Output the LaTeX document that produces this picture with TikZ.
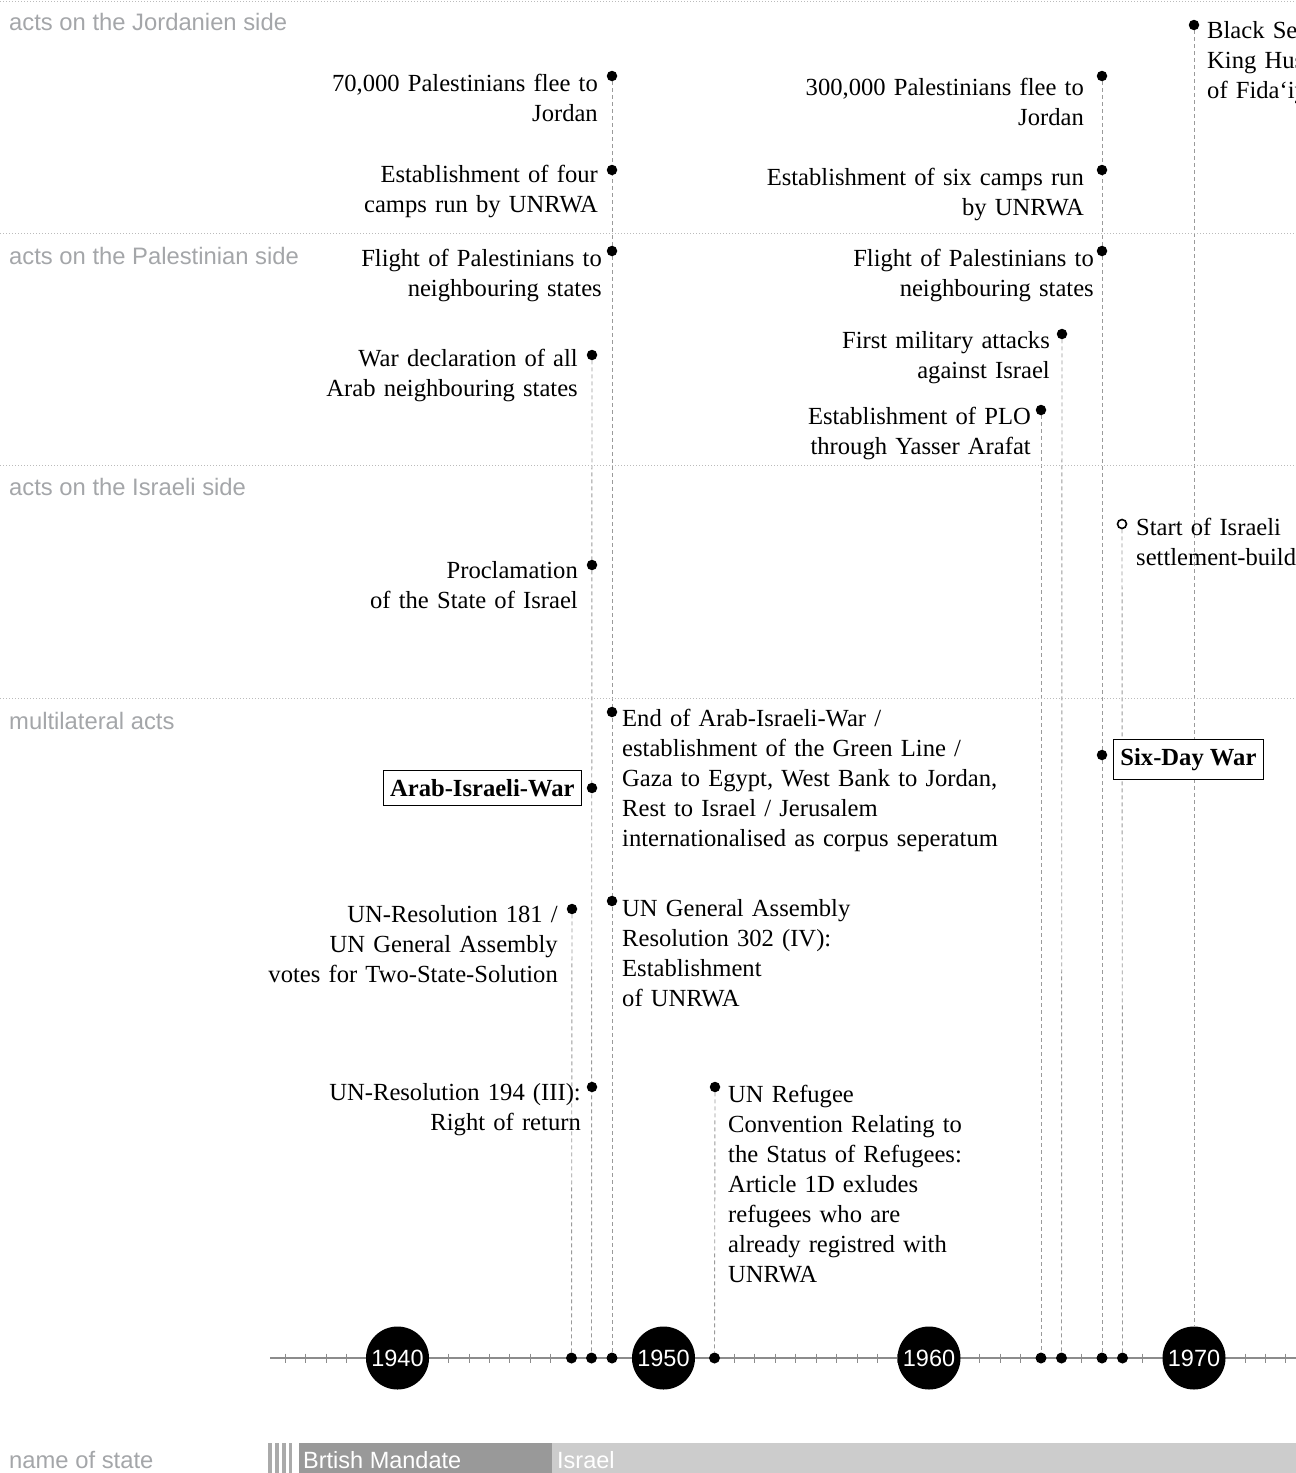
\documentclass[tikz,border=0pt]{standalone}
\usepackage{fontspec}
\setmainfont{Liberation Serif}
\setsansfont{Liberation Sans}
\usetikzlibrary{backgrounds}

\definecolor{labelgray}{HTML}{A4A6A9}
\definecolor{guidegray}{HTML}{9A9A9A}
\definecolor{sepgray}{HTML}{BBBBBB}
\definecolor{tickgray}{HTML}{8C8C8C}
\definecolor{mandate}{HTML}{999999}
\definecolor{israelbar}{HTML}{CCCCCC}
\definecolor{stripe}{HTML}{AAAAAA}

\tikzset{
  section/.style={font=\sffamily\fontsize{23.8}{28}\selectfont, text=labelgray, anchor=base west, inner sep=0pt},
  evtext/.style={font=\fontsize{24.6}{30}\selectfont, inner sep=0pt, text width=480pt},
  lefttext/.style={evtext, align=left, anchor=base west},
  righttext/.style={evtext, align=right, anchor=base east},
  evdot/.style={circle, fill=black, inner sep=0pt, minimum size=10.5pt},
  opendot/.style={circle, draw=black, fill=white, line width=1.6pt, inner sep=0pt, minimum size=9pt},
  axdot/.style={circle, fill=black, inner sep=0pt, minimum size=11pt},
  yearmark/.style={circle, fill=black, minimum size=63pt, inner sep=0pt, text=white,
    font=\sffamily\fontsize{23.5}{28}\selectfont},
  guide/.style={draw=guidegray, line width=0.9pt, dash pattern=on 4pt off 3pt},
  separator/.style={draw=sepgray, line width=0.8pt, dash pattern=on 1pt off 2pt},
  warbox/.style={draw=black, fill=white, line width=0.9pt,
    font=\bfseries\fontsize{24.6}{30}\selectfont, inner xsep=7pt, inner ysep=9pt},
  barlabel/.style={font=\sffamily\fontsize{23.5}{28}\selectfont, text=white, anchor=base west, inner sep=0pt}
}

\begin{document}
\begin{tikzpicture}[x=1pt, y=-1pt]
\path[use as bounding box, clip] (0,0) rectangle (1296,1473);

% row separators
\foreach \yy in {1,233,465,698}
  \draw[separator] (0,\yy) -- (1296,\yy);

% row headings
\node[section] (hjor) at (9,30) {acts on the Jordanien side};
\node[section] (hpal) at (9,264) {acts on the Palestinian side};
\node[section] (hisr) at (9,495) {acts on the Israeli side};
\node[section] (hmul) at (9,729) {multilateral acts};
\node[section] (hsta) at (9,1468) {name of state};

% time axis with ticks
\draw[tickgray, line width=1.2pt] (270,1358) -- (1296,1358);
\foreach \n in {-6,...,43}
  \draw[tickgray, line width=0.8pt] ({397.5+(\n+0.5)*20.42},1353.5) -- ++(0,9);

% decades
\node[yearmark] (y1940) at (397.5,1358) {1940};
\node[yearmark] (y1950) at (663.5,1358) {1950};
\node[yearmark] (y1960) at (929,1358) {1960};
\node[yearmark] (y1970) at (1194,1358) {1970};

% event markers on the axis
\node[axdot] (a572) at (571.5,1358) {};
\node[axdot] (a592) at (591.5,1358) {};
\node[axdot] (a612) at (612,1358) {};
\node[axdot] (a715) at (714.5,1358) {};
\node[axdot] (a1041) at (1041,1358) {};
\node[axdot] (a1062) at (1061.5,1358) {};
\node[axdot] (a1102) at (1102,1358) {};
\node[axdot] (a1122) at (1122.5,1358) {};

% --- Jordanian side
\node[evdot] (j1) at (612,76) {};
\node[righttext] (tj1) at (598,91) {70,000 Palestinians flee to\\Jordan};
\node[evdot] (j2) at (612,170) {};
\node[righttext] (tj2) at (598,182) {Establishment of four\\camps run by UNRWA};
\node[evdot] (j3) at (1102,76) {};
\node[righttext] (tj3) at (1084,95) {300,000 Palestinians flee to\\Jordan};
\node[evdot] (j4) at (1102,170) {};
\node[righttext] (tj4) at (1084,185) {Establishment of six camps run\\by UNRWA};
\node[evdot] (j5) at (1194,25) {};
\node[lefttext] (tj5) at (1207,38) {Black September:\\King Hussein's expulsion\\of Fida‘iyyin};

% --- Palestinian side
\node[evdot] (p1) at (612,251) {};
\node[righttext] (tp1) at (602,266) {Flight of Palestinians to\\neighbouring states};
\node[evdot] (p2) at (592,355) {};
\node[righttext] (tp2) at (578,366) {War declaration of all\\Arab neighbouring states};
\node[evdot] (p3) at (1102,251) {};
\node[righttext] (tp3) at (1094,266) {Flight of Palestinians to\\neighbouring states};
\node[evdot] (p4) at (1062,334) {};
\node[righttext] (tp4) at (1050,348) {First military attacks\\against Israel};
\node[evdot] (p5) at (1041,410) {};
\node[righttext] (tp5) at (1031,424) {Establishment of PLO\\through Yasser Arafat};

% --- Israeli side
\node[evdot] (i1) at (592,565) {};
\node[righttext] (ti1) at (578,578) {Proclamation\\of the State of Israel};
\node[opendot] (i2) at (1122,524) {};
\node[lefttext] (ti2) at (1136,535) {Start of Israeli\\settlement-building};

% --- multilateral acts
\node[evdot] (m1) at (612,712) {};
\node[lefttext] (tm1) at (622,726) {End of Arab-Israeli-War /\\establishment of the Green Line /\\Gaza to Egypt, West Bank to Jordan,\\Rest to Israel / Jerusalem\\internationalised as corpus seperatum};
\node[evdot] (m2) at (592,788) {};
\node[evdot] (m3) at (1102,755) {};
\node[evdot] (m4) at (572,909) {};
\node[righttext] (tm4) at (558,922) {UN-Resolution 181 /\\UN General Assembly\\votes for Two-State-Solution};
\node[evdot] (m5) at (612,901) {};
\node[lefttext] (tm5) at (622,916) {UN General Assembly\\Resolution 302 (IV):\\Establishment\\of UNRWA};
\node[evdot] (m6) at (592,1087) {};
\node[righttext] (tm6) at (581,1100) {UN-Resolution 194 (III):\\Right of return};
\node[evdot] (m7) at (715,1087) {};
\node[lefttext] (tm7) at (728,1102) {UN Refugee\\Convention Relating to\\the Status of Refugees:\\Article 1D exludes\\refugees who are\\already registred with\\UNRWA};

% drop lines from each event to the axis
\begin{pgfonlayer}{background}
  \draw[guide] (j1) -- (a612);
  \draw[guide] (p2) -- (a592);
  \draw[guide] (m4) -- (a572);
  \draw[guide] (m7) -- (a715);
  \draw[guide] (p5) -- (a1041);
  \draw[guide] (p4) -- (a1062);
  \draw[guide] (j3) -- (a1102);
  \draw[guide] (i2) -- (a1122);
  \draw[guide] (j5) -- (y1970);
\end{pgfonlayer}

% the two wars
\node[warbox, anchor=east] (war48) at (582,788) {Arab-Israeli-War};
\node[warbox, anchor=west] (war67) at (1113,759.5) {Six-Day War};

% states over time
\foreach \sx in {268,275,282,288.5}
  \fill[stripe] (\sx,1443) rectangle ++(3.6,30);
\fill[mandate] (299,1443) rectangle (552,1473);
\fill[israelbar] (552,1443) rectangle (1296,1473);
\node[barlabel] (smand) at (303,1468) {Brtish Mandate};
\node[barlabel] (sisr) at (557,1468) {Israel};
\end{tikzpicture}
\end{document}
